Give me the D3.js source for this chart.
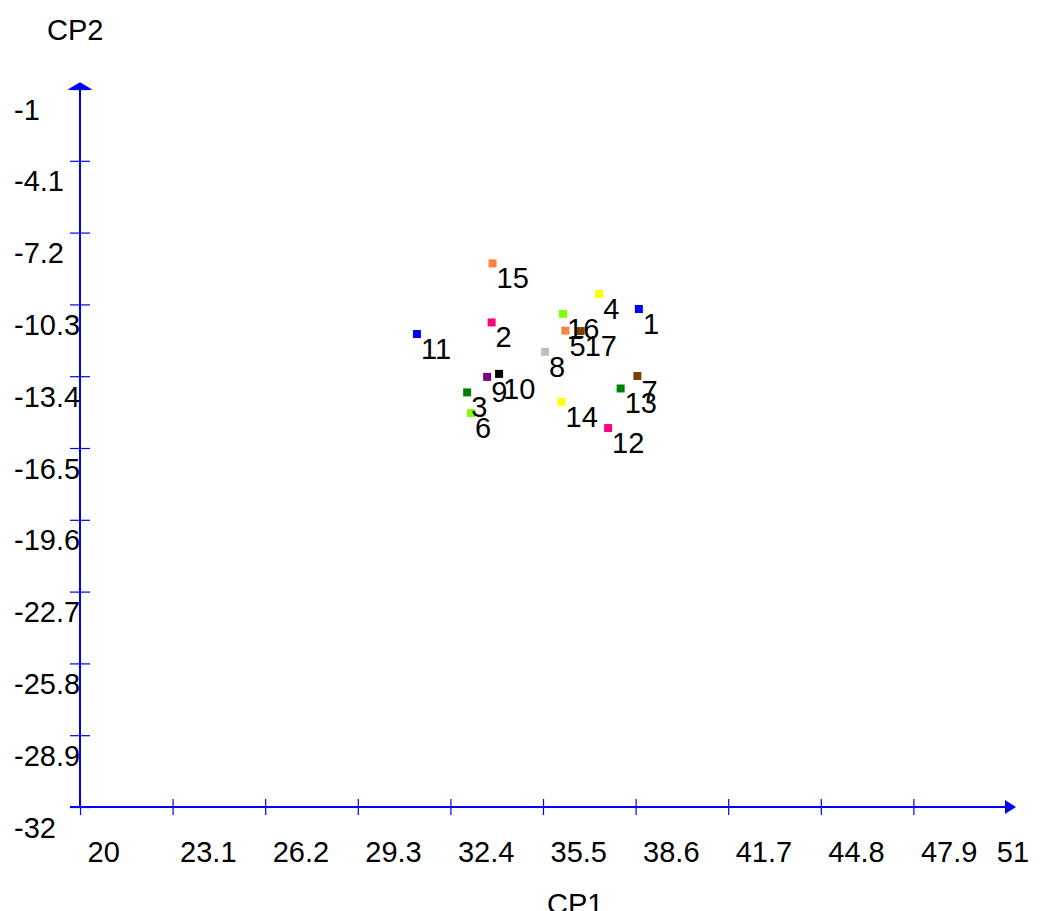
<!DOCTYPE html>
<html>
<head>
<meta charset="utf-8">
<script src="https://cdn.jsdelivr.net/npm/d3@7"></script>
<style>
  html, body { margin: 0; padding: 0; background: #fff; }
  svg { display: block; }
  text { font-family: "Liberation Sans", Arial, sans-serif; fill: #000; }
</style>
</head>
<body>
<svg id="chart" width="1050" height="911"></svg>
<script>
// ---- data ----
const pointIds = [1, 2, 3, 4, 5, 6, 7, 8, 9, 10, 11, 12, 13, 14, 15, 16, 17];
const cp1Values = [38.71, 33.78, 32.96, 37.38, 36.25, 33.09, 38.66, 35.57, 33.63, 34.03, 31.28, 37.68, 38.10, 36.12, 33.81, 36.17, 36.76];
const cp2Values = [-10.50, -11.08, -14.10, -9.85, -11.43, -14.99, -13.39, -12.35, -13.43, -13.30, -11.58, -15.64, -13.93, -14.51, -8.53, -10.71, -11.45];
const pointColors = ["#0000ff", "#ff0080", "#008000", "#ffff00", "#ff8040", "#80ff00", "#804000", "#c0c0c0", "#800080", "#000000",
                     "#0000ff", "#ff0080", "#008000", "#ffff00", "#ff8040", "#80ff00", "#804000"];
const xTickValues = [20, 23.1, 26.2, 29.3, 32.4, 35.5, 38.6, 41.7, 44.8, 47.9, 51];
const xTickLabels = ["20", "23.1", "26.2", "29.3", "32.4", "35.5", "38.6", "41.7", "44.8", "47.9", "51"];
const yTickValues = [-1, -4.1, -7.2, -10.3, -13.4, -16.5, -19.6, -22.7, -25.8, -28.9, -32];
const yTickLabels = ["-1", "-4.1", "-7.2", "-10.3", "-13.4", "-16.5", "-19.6", "-22.7", "-25.8", "-28.9", "-32"];
const xTitle = "CP1";
const yTitle = "CP2";

// ---- layout ----
const svg = d3.select("#chart");
const x = d3.scaleLinear().domain([20, 51]).range([80, 1006]);
const y = d3.scaleLinear().domain([-32, -1]).range([807, 89]);
const axisColor = "#0000ff";
const fontSize = 29;

// X axis
const xAxis = d3.axisBottom(x)
  .tickValues(xTickValues.slice(0, -1))
  .tickFormat((d, i) => xTickLabels[i])
  .tickSizeOuter(0);
const gx = svg.append("g").attr("transform", `translate(0,${y(-32)})`).call(xAxis);
gx.select(".domain").remove();
gx.selectAll(".tick line").attr("y1", -8).attr("y2", 8).attr("stroke", axisColor).attr("stroke-width", 1.2);
gx.selectAll(".tick text")
  .attr("y", 55).attr("dy", null).attr("x", 7)
  .attr("text-anchor", "start")
  .style("font-size", fontSize + "px")
  .style("font-family", "'Liberation Sans', Arial, sans-serif");
// last label (51) at axis end, no tick
gx.append("text")
  .attr("x", x(51) + 7).attr("y", 55)
  .attr("fill", "#000")
  .style("font-size", fontSize + "px")
  .text(xTickLabels[xTickLabels.length - 1]);
gx.append("line")
  .attr("x1", x(20) - 10).attr("x2", x(51) + 4)
  .attr("y1", 0).attr("y2", 0)
  .attr("stroke", axisColor).attr("stroke-width", 2);
gx.append("path")
  .attr("d", `M${x(51) - 1},-7 L${x(51) + 10},0 L${x(51) - 1},7 Z`)
  .attr("fill", axisColor);

// Y axis
const yAxis = d3.axisLeft(y)
  .tickValues(yTickValues)
  .tickFormat((d, i) => yTickLabels[i])
  .tickSizeOuter(0);
const gy = svg.append("g").attr("transform", `translate(${x(20)},0)`).call(yAxis);
gy.select(".domain").remove();
gy.selectAll(".tick line").attr("x1", -10).attr("x2", 10).attr("stroke", axisColor).attr("stroke-width", 1.2);
gy.selectAll(".tick text")
  .attr("x", -66).attr("dy", null).attr("y", 30)
  .attr("text-anchor", "start")
  .style("font-size", fontSize + "px")
  .style("font-family", "'Liberation Sans', Arial, sans-serif");
gy.append("line")
  .attr("x1", 0).attr("x2", 0)
  .attr("y1", y(-32) + 1).attr("y2", y(-1))
  .attr("stroke", axisColor).attr("stroke-width", 2);
gy.append("path")
  .attr("d", `M-10,${y(-1)} L10,${y(-1)} L0,${y(-1) - 6} Z`)
  .attr("fill", axisColor)
  .attr("stroke", axisColor).attr("stroke-width", 1.5);

// Titles
svg.append("text").attr("x", 47).attr("y", 40).style("font-size", fontSize + "px").text(yTitle);
svg.append("text").attr("x", 547).attr("y", 914).style("font-size", fontSize + "px").text(xTitle);

// Points
const data = pointIds.map((id, i) => ({ id, cx: cp1Values[i], cy: cp2Values[i], color: pointColors[i] }));
const sq = 8;
svg.append("g").selectAll("rect").data(data).join("rect")
  .attr("x", d => x(d.cx) - sq / 2)
  .attr("y", d => y(d.cy) - sq / 2)
  .attr("width", sq).attr("height", sq)
  .attr("fill", d => d.color);
svg.append("g").selectAll("text").data(data).join("text")
  .attr("x", d => x(d.cx) + 4)
  .attr("y", d => y(d.cy) + 25)
  .style("font-size", fontSize + "px")
  .text(d => d.id);
</script>
</body>
</html>
